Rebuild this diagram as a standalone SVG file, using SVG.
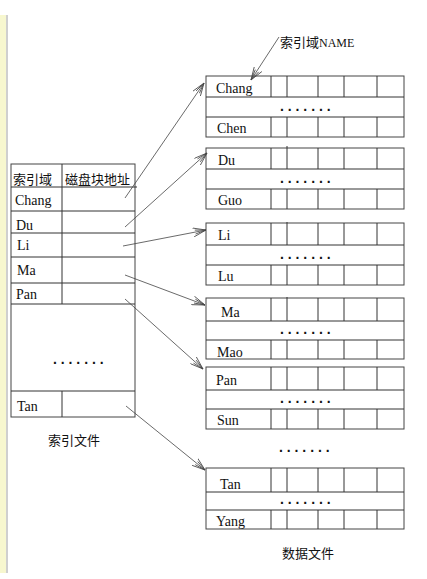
<svg xmlns="http://www.w3.org/2000/svg" width="427" height="579" viewBox="0 0 427 579">
<style>
.ln{stroke:#333;stroke-width:1;fill:none}
.bx{stroke:#444;stroke-width:1;fill:#fff}
.t{font-family:"Liberation Serif","Noto Sans CJK SC",serif;font-size:14px;fill:#111}
.c{font-family:"Noto Sans CJK SC","Liberation Serif",serif;font-size:13px;fill:#111}
.d{font-family:"Liberation Sans",sans-serif;font-size:14px;font-weight:bold;fill:#111;letter-spacing:3.9px}
.cn{stroke:#444;stroke-width:0.8;fill:none;marker-end:url(#ah)}
</style>
<defs>
<marker id="ah" markerWidth="14" markerHeight="10" refX="13" refY="5" orient="auto" markerUnits="userSpaceOnUse">
<path d="M0,0.5 L13,5 L0,9.5 M2,3 L13,5 L2,7" stroke="#444" stroke-width="0.8" fill="none"/>
</marker>
</defs>
<rect x="0" y="0" width="427" height="579" fill="#fff"/>
<g id="sidebar">
<rect x="0" y="15" width="6" height="558" fill="#f7f7cf"/>
<line x1="7" y1="15" x2="7" y2="573" stroke="#cfcfcf" stroke-width="2"/>
</g>
<g id="index-file">
<rect x="11" y="164" width="124" height="253" class="bx"/>
<line x1="11" y1="187" x2="137" y2="187" class="ln"/>
<line x1="11" y1="211" x2="135" y2="211" class="ln"/>
<line x1="11" y1="233" x2="135" y2="233" class="ln"/>
<line x1="11" y1="257" x2="135" y2="257" class="ln"/>
<line x1="11" y1="283" x2="135" y2="283" class="ln"/>
<line x1="11" y1="304" x2="135" y2="304" class="ln"/>
<line x1="11" y1="391" x2="135" y2="391" class="ln"/>
<line x1="62" y1="164" x2="62" y2="304" class="ln"/>
<line x1="62" y1="391" x2="62" y2="417" class="ln"/>
<text x="13" y="184" class="c" font-size="14">索引域</text>
<text x="65" y="184" class="c" font-size="14">磁盘块地址</text>
<text x="15" y="205" class="t">Chang</text>
<text x="16" y="230" class="t">Du</text>
<text x="17" y="250" class="t">Li</text>
<text x="17" y="275" class="t">Ma</text>
<text x="16" y="299" class="t">Pan</text>
<text x="17" y="411" class="t">Tan</text>
<text x="53" y="364" class="d">.......</text>
<text x="48" y="445" class="c">索引文件</text>
</g>
<g id="block-chang">
<rect x="206" y="76" width="198" height="61" class="bx"/>
<line x1="206" y1="97" x2="404" y2="97" class="ln"/>
<line x1="206" y1="117" x2="404" y2="117" class="ln"/>
<path d="M271,76V97M287,76V97M318,76V97M344,76V97M377,76V97M271,117V137M287,117V137M318,117V137M344,117V137M377,117V137" class="ln"/>
<text x="216" y="93" class="t">Chang</text>
<text x="280" y="111" class="d">.......</text>
<text x="217" y="133" class="t">Chen</text>
</g>
<g id="block-du">
<rect x="206" y="148" width="198" height="61" class="bx"/>
<line x1="206" y1="169" x2="404" y2="169" class="ln"/>
<line x1="206" y1="189" x2="404" y2="189" class="ln"/>
<path d="M271,148V169M287,146V169M318,148V169M344,148V169M377,148V169M271,189V209M287,189V209M318,189V209M344,189V209M377,189V209" class="ln"/>
<text x="218" y="165" class="t">Du</text>
<text x="280" y="183" class="d">.......</text>
<text x="218" y="205" class="t">Guo</text>
</g>
<g id="block-li">
<rect x="206" y="223" width="198" height="62" class="bx"/>
<line x1="206" y1="245" x2="404" y2="245" class="ln"/>
<line x1="206" y1="265" x2="404" y2="265" class="ln"/>
<path d="M271,223V245M287,222V245M318,223V245M344,223V245M377,223V245M271,265V285M287,265V285M318,265V285M344,265V285M377,265V285" class="ln"/>
<text x="218" y="240" class="t">Li</text>
<text x="280" y="259" class="d">.......</text>
<text x="218" y="281" class="t">Lu</text>
</g>
<g id="block-ma">
<rect x="206" y="298" width="198" height="61" class="bx"/>
<line x1="206" y1="321" x2="404" y2="321" class="ln"/>
<line x1="206" y1="340" x2="404" y2="340" class="ln"/>
<path d="M271,298V321M287,297V321M318,298V321M344,298V321M377,298V321M271,340V359M287,340V359M318,340V359M344,340V359M377,340V359" class="ln"/>
<text x="221" y="317" class="t">Ma</text>
<text x="280" y="334" class="d">.......</text>
<text x="217" y="357" class="t">Mao</text>
</g>
<g id="block-pan">
<rect x="206" y="367" width="198" height="62" class="bx"/>
<line x1="206" y1="390" x2="404" y2="390" class="ln"/>
<line x1="206" y1="409" x2="404" y2="409" class="ln"/>
<path d="M271,367V390M287,367V390M318,367V390M344,367V390M377,367V390M271,409V429M287,409V429M318,409V429M344,409V429M377,409V429" class="ln"/>
<text x="216" y="385" class="t">Pan</text>
<text x="280" y="403" class="d">.......</text>
<text x="217" y="425" class="t">Sun</text>
</g>
<g id="gap-dots">
<text x="279" y="452" class="d">.......</text>
</g>
<g id="block-tan">
<rect x="206" y="468" width="198" height="61" class="bx"/>
<line x1="206" y1="492" x2="404" y2="492" class="ln"/>
<line x1="206" y1="510" x2="404" y2="510" class="ln"/>
<path d="M271,468V492M287,468V492M318,468V492M344,468V492M377,468V492M271,510V529M287,510V529M318,510V529M344,510V529M377,510V529" class="ln"/>
<text x="220" y="489" class="t">Tan</text>
<text x="280" y="504" class="d">.......</text>
<text x="216" y="526" class="t">Yang</text>
<text x="282" y="558" class="c" font-size="14">数据文件</text>
</g>
<g id="name-label">
<text x="280" y="47" class="c">索引域<tspan font-family="Liberation Serif, serif" font-size="12">NAME</tspan></text>
</g>
<g id="connectors">
<line x1="279" y1="37" x2="251" y2="80" class="cn"/>
<line x1="125" y1="198" x2="204" y2="83" class="cn"/>
<line x1="125" y1="227" x2="207" y2="153" class="cn"/>
<line x1="123" y1="246" x2="206" y2="230" class="cn"/>
<line x1="125" y1="275" x2="205" y2="305" class="cn"/>
<line x1="125" y1="299" x2="203" y2="369" class="cn"/>
<line x1="126" y1="406" x2="205" y2="470" class="cn"/>
</g>
</svg>
